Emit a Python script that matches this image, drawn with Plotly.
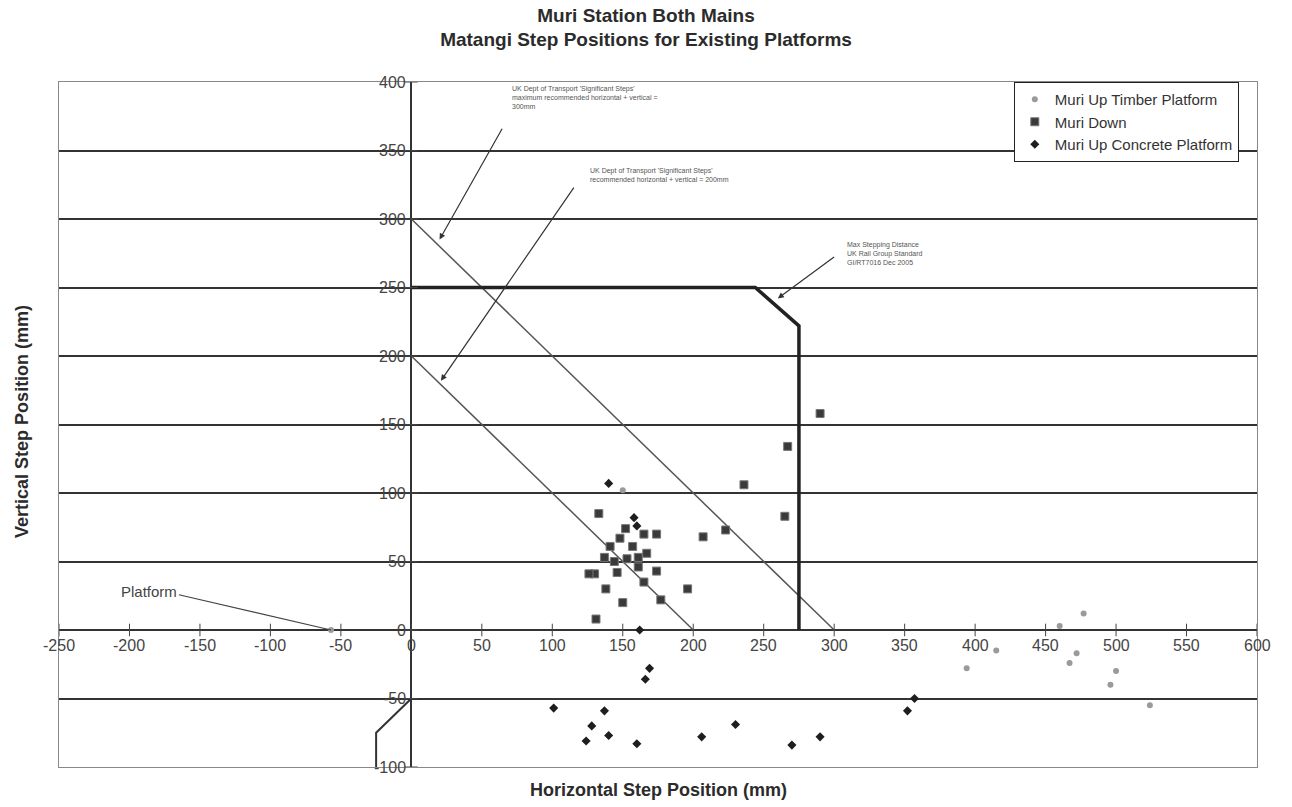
import plotly.graph_objects as go

# Axis ticks
x_ticks = list(range(-250, 601, 50))
y_ticks = list(range(-100, 401, 50))

# Muri Up Timber Platform
timber_x = [-57, 150, 394, 415, 460, 477, 467, 472, 500, 496, 524]
timber_y = [0, 102, -28, -15, 3, 12, -24, -17, -30, -40, -55]

# Muri Down
down_x = [290, 267, 236, 265, 223, 207, 196, 177, 174, 174, 167, 165, 152, 148, 141,
          133, 137, 138, 130, 126, 131, 150, 146, 157, 161, 153, 165, 144, 161]
down_y = [158, 134, 106, 83, 73, 68, 30, 22, 43, 70, 56, 70, 74, 67, 61,
          85, 53, 30, 41, 41, 8, 20, 42, 61, 46, 52, 35, 50, 53]

# Muri Up Concrete Platform
concrete_x = [140, 158, 160, 162, 169, 166, 101, 137, 128, 140, 124, 160, 206, 230, 270, 290, 352, 357]
concrete_y = [107, 82, 76, 0, -28, -36, -57, -59, -70, -77, -81, -83, -78, -69, -84, -78, -59, -50]

# Reference limits
max_step_x = [0, 244, 275, 275]
max_step_y = [250, 250, 222, 0]
platform_x = [0, -25, -25]
platform_y = [-50, -75, -100]
dft300_x = [0, 300]
dft300_y = [300, 0]
dft200_x = [0, 200]
dft200_y = [200, 0]

FONT = "Arial, Liberation Sans, sans-serif"
INK = "#2b2b2b"

fig = go.Figure()

# limit lines
fig.add_trace(go.Scatter(x=dft300_x, y=dft300_y, mode="lines",
                         line=dict(color="#555", width=1.5), showlegend=False, hoverinfo="skip"))
fig.add_trace(go.Scatter(x=dft200_x, y=dft200_y, mode="lines",
                         line=dict(color="#555", width=1.5), showlegend=False, hoverinfo="skip"))
fig.add_trace(go.Scatter(x=max_step_x, y=max_step_y, mode="lines",
                         line=dict(color="#222", width=3.5), showlegend=False, hoverinfo="skip"))
fig.add_trace(go.Scatter(x=platform_x, y=platform_y, mode="lines",
                         line=dict(color="#333", width=2), showlegend=False, hoverinfo="skip"))

# tick marks on the crossing axes
fig.add_trace(go.Scatter(x=x_ticks, y=[0] * len(x_ticks), mode="markers",
                         marker=dict(symbol="line-ns", size=9, line=dict(color="#444", width=1)),
                         showlegend=False, hoverinfo="skip"))
fig.add_trace(go.Scatter(x=[0] * len(y_ticks), y=y_ticks, mode="markers",
                         marker=dict(symbol="line-ew", size=9, line=dict(color="#444", width=1)),
                         showlegend=False, hoverinfo="skip"))

# data series
fig.add_trace(go.Scatter(x=timber_x, y=timber_y, mode="markers", name="Muri Up Timber Platform",
                         marker=dict(symbol="circle", size=6, color="#9a9a9a")))
fig.add_trace(go.Scatter(x=down_x, y=down_y, mode="markers", name="Muri Down",
                         marker=dict(symbol="square", size=8, color="#3a3a3a",
                                     line=dict(color="#777", width=1))))
fig.add_trace(go.Scatter(x=concrete_x, y=concrete_y, mode="markers", name="Muri Up Concrete Platform",
                         marker=dict(symbol="diamond", size=7, color="#1e1e1e")))

annotations = []
# tick labels placed along the axes that cross at zero
for v in x_ticks:
    annotations.append(dict(x=v, y=0, xref="x", yref="y", text=str(v), showarrow=False,
                            yanchor="top", yshift=-5, font=dict(family=FONT, size=16, color="#444")))
for v in y_ticks:
    annotations.append(dict(x=0, y=v, xref="x", yref="y", text=str(v), showarrow=False,
                            xanchor="right", xshift=-3, font=dict(family=FONT, size=16, color="#444")))

small = dict(family=FONT, size=7, color="#555")
annotations += [
    dict(x=20, y=285, xref="x", yref="y", ax=65, ay=367, axref="x", ayref="y",
         showarrow=True, arrowhead=2, arrowsize=1, arrowwidth=1.2, arrowcolor="#333", text=""),
    dict(x=70, y=378, xref="x", yref="y", xanchor="left", yanchor="bottom", showarrow=False, align="left",
         text="UK Dept of Transport 'Significant Steps'<br>maximum recommended horizontal + vertical =<br>300mm",
         font=small),
    dict(x=21, y=182, xref="x", yref="y", ax=116, ay=324, axref="x", ayref="y",
         showarrow=True, arrowhead=2, arrowsize=1, arrowwidth=1.2, arrowcolor="#333", text=""),
    dict(x=125, y=325, xref="x", yref="y", xanchor="left", yanchor="bottom", showarrow=False, align="left",
         text="UK Dept of Transport 'Significant Steps'<br>recommended horizontal + vertical = 200mm",
         font=small),
    dict(x=260, y=242, xref="x", yref="y", ax=301, ay=273, axref="x", ayref="y",
         showarrow=True, arrowhead=2, arrowsize=1, arrowwidth=1.2, arrowcolor="#333", text=""),
    dict(x=308, y=264, xref="x", yref="y", xanchor="left", yanchor="bottom", showarrow=False, align="left",
         text="Max Stepping Distance<br>UK Rail Group Standard<br>GI/RT7016 Dec 2005",
         font=small),
    dict(x=-57, y=0, xref="x", yref="y", ax=-166, ay=26, axref="x", ayref="y",
         showarrow=True, arrowhead=0, arrowwidth=1.2, arrowcolor="#444", text=""),
    dict(x=-165, y=28, xref="x", yref="y", xanchor="right", yanchor="middle", showarrow=False,
         text="Platform", font=dict(family=FONT, size=15, color="#444")),
    # axis titles
    dict(x=0.5, y=-0.034, xref="paper", yref="paper", yanchor="middle", showarrow=False,
         text="<b>Horizontal Step Position (mm)</b>", font=dict(family=FONT, size=18, color=INK)),
    dict(x=-0.031, y=0.505, xref="paper", yref="paper", xanchor="center", yanchor="middle",
         showarrow=False, textangle=-90,
         text="<b>Vertical Step Position (mm)</b>", font=dict(family=FONT, size=18, color=INK)),
]

fig.update_layout(
    width=1292, height=807,
    margin=dict(l=59, r=35, t=82, b=40),
    paper_bgcolor="white", plot_bgcolor="white",
    title=dict(text="<b>Muri Station Both Mains<br>Matangi Step Positions for Existing Platforms</b>",
               x=0.49, xref="paper", xanchor="center", y=0.973, yanchor="middle",
               font=dict(family=FONT, size=19, color=INK)),
    font=dict(family=FONT, color=INK),
    showlegend=True,
    legend=dict(x=0.797, y=1.0, xanchor="left", yanchor="top", bgcolor="white",
                bordercolor="#222", borderwidth=1, font=dict(family=FONT, size=15, color="#333"),
                tracegroupgap=0, itemwidth=30),
    annotations=annotations,
    xaxis=dict(range=[-250, 600], showgrid=False, zeroline=True, zerolinecolor="#333", zerolinewidth=1.5,
               showticklabels=False, ticks="", showline=True, mirror=True, linecolor="#888", linewidth=1),
    yaxis=dict(range=[-100, 400], dtick=50, tick0=0, showgrid=True, gridcolor="#333", gridwidth=2,
               zeroline=True, zerolinecolor="#333", zerolinewidth=2,
               showticklabels=False, ticks="", showline=True, mirror=True, linecolor="#888", linewidth=1),
)

fig.write_html("out.html")
